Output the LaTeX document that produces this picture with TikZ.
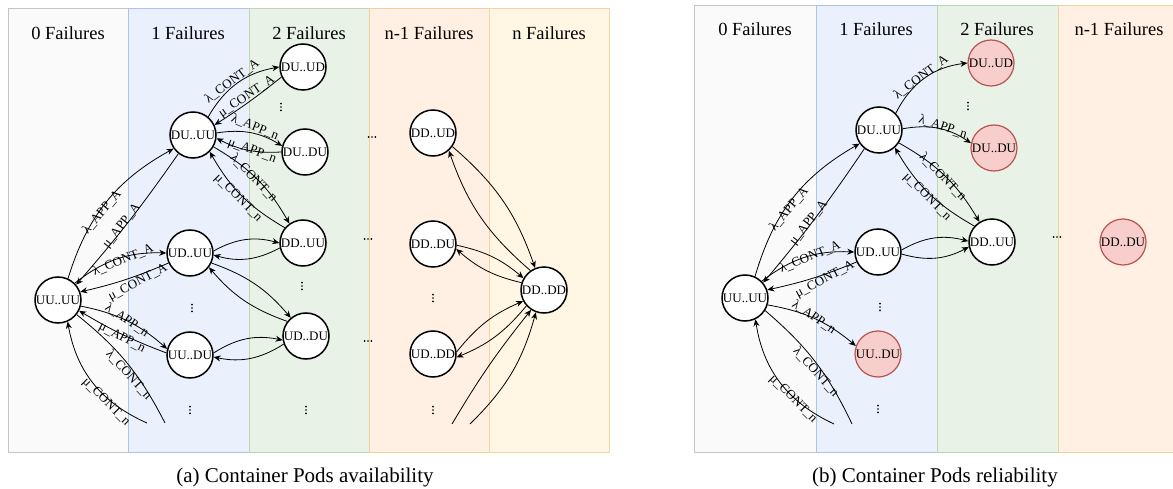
\documentclass[tikz,border=0pt]{standalone}
\usepackage{fontspec}
\setmainfont{Liberation Serif}
\usetikzlibrary{arrows.meta}

\definecolor{fillzero}{HTML}{FAFAFA}\definecolor{drawzero}{HTML}{C4C4C4}
\definecolor{fillone}{HTML}{EBF1FC}\definecolor{drawone}{HTML}{AFC4E2}
\definecolor{filltwo}{HTML}{E8F2E7}\definecolor{drawtwo}{HTML}{BCD8B2}
\definecolor{fillthree}{HTML}{FFF0E3}\definecolor{drawthree}{HTML}{EDD29A}
\definecolor{fillfour}{HTML}{FFF7E4}\definecolor{drawfour}{HTML}{EDD9A0}
\definecolor{lostfill}{HTML}{F8CECC}\definecolor{lostdraw}{HTML}{B85450}

\tikzset{
  band/.style={line width=0.8pt},
  state/.style={circle, draw=black, line width=1.5pt, fill=white, minimum size=46pt,
    inner sep=0pt, font=\fontsize{13}{13}\selectfont},
  lost/.style={state, draw=lostdraw, fill=lostfill, line width=1.2pt},
  lab/.style={font=\fontsize{13}{13}\selectfont, inner sep=0pt},
  head/.style={font=\fontsize{18.5}{19}\selectfont, inner sep=0pt},
  subcaption/.style={font=\fontsize{21}{22}\selectfont, inner sep=0pt},
  tr/.style={-{Stealth[length=7pt,width=6pt]}, line width=0.8pt},
  ln/.style={line width=0.8pt},
  vd/.pic={\fill (0,-3.4) circle (0.95); \fill (0,0) circle (0.95); \fill (0,3.4) circle (0.95);},
  hd/.pic={\fill (-3.4,0) circle (0.95); \fill (0,0) circle (0.95); \fill (3.4,0) circle (0.95);}
}

\begin{document}
\begin{tikzpicture}[x=1pt,y=-1pt]
\useasboundingbox (0,0) rectangle (1173,489);

% ---------------- (a) availability: failure-count bands ----------------
\filldraw[band, fill=fillzero,  draw=drawzero]  (8,8)   rectangle (128,452);
\filldraw[band, fill=fillone,   draw=drawone]   (128,8) rectangle (249,452);
\filldraw[band, fill=filltwo,   draw=drawtwo]   (249,8) rectangle (369,452);
\filldraw[band, fill=fillthree, draw=drawthree] (369,8) rectangle (489,452);
\filldraw[band, fill=fillfour,  draw=drawfour]  (489,8) rectangle (609,452);
\node[head] (a-h0) at (68,33)  {0 Failures};
\node[head] (a-h1) at (188,33) {1 Failures};
\node[head] (a-h2) at (309,33) {2 Failures};
\node[head] (a-h3) at (429,33) {n-1 Failures};
\node[head] (a-h4) at (549,33) {n Failures};

\node[state] (a-uu)   at (58,300)  {UU..UU};
\node[state] (a-du)   at (193,135) {DU..UU};
\node[state] (a-ud)   at (190,253) {UD..UU};
\node[state] (a-uudu) at (190,355) {UU..DU};
\node[state] (a-duud) at (303,67)  {DU..UD};
\node[state] (a-dudu) at (305,152) {DU..DU};
\node[state] (a-dduu) at (303,243) {DD..UU};
\node[state] (a-uddu) at (306,336) {UD..DU};
\node[state] (a-ddud) at (433,133) {DD..UD};
\node[state] (a-dddu) at (433,244) {DD..DU};
\node[state] (a-uddd) at (433,354) {UD..DD};
\node[state] (a-dddd) at (544,290) {DD..DD};
\coordinate (a-e1) at (147,423);
\coordinate (a-e2) at (165,423);
\coordinate (a-e3) at (452,424);
\coordinate (a-e4) at (470,424);

\pic at (281,107) {vd}; \pic at (192,308) {vd}; \pic at (190,410) {vd};
\pic at (302,286) {vd}; \pic at (306,410) {vd};
\pic at (433,298) {vd}; \pic at (433,410) {vd};
\pic at (372,137) {hd}; \pic at (368,239) {hd}; \pic at (368,341) {hd};

% transitions out of the all-up state
\draw[tr] (a-uu.65) to[bend left=22] (a-du.215);
\draw[tr] (a-du.232) to[bend left=3] (a-uu.40);
\draw[tr] (a-uu.45) to[bend left=20] (a-ud.180);
\draw[tr] (a-ud.205) to[bend left=5] (a-uu.20);
\draw[tr] (a-uu.-15) to[bend left=15] (a-uudu.165);
\draw[tr] (a-uudu.175) to[bend left=5] (a-uu.-27);
\draw[ln] (a-uu.-38) to[bend left=12] (a-e2);
\draw[tr] (a-e1) to[bend left=28] (a-uu.-66);
% transitions of DU..UU
\draw[tr] (a-du.50) to[bend left=25] (a-duud.180);
\draw[tr] (a-duud.205) to[bend left=3] (a-du.25);
\draw[tr] (a-du.5) to[bend left=20] (a-dudu.165);
\draw[tr] (a-dudu.180) to[bend left=15] (a-du.-8);
\draw[tr] (a-du.-30) to[bend left=15] (a-dduu.125);
\draw[tr] (a-dduu.140) to[bend left=15] (a-du.-45);
% remaining second-failure transitions
\draw[tr] (a-ud.5) to[bend left=22] (a-dduu.180);
\draw[tr] (a-dduu.192) to[bend left=22] (a-ud.-5);
\draw[tr] (a-ud.-25) to[bend left=15] (a-uddu.130);
\draw[tr] (a-uddu.142) to[bend left=15] (a-ud.-37);
\draw[tr] (a-uudu.5) to[bend left=22] (a-uddu.190);
\draw[tr] (a-uddu.200) to[bend left=22] (a-uudu.-5);
% into and out of the all-down state
\draw[tr] (a-ddud.-35) to[bend left=15] (a-dddd.112);
\draw[tr] (a-dddd.125) to[bend left=15] (a-ddud.-48);
\draw[tr] (a-dddu.-3) to[bend left=14] (a-dddd.150);
\draw[tr] (a-dddd.162) to[bend left=14] (a-dddu.-12);
\draw[tr] (a-uddd.5) to[bend left=14] (a-dddd.208);
\draw[tr] (a-dddd.222) to[bend left=14] (a-uddd.-8);
\draw[tr] (a-e3) to[bend left=4] (a-dddd.237);
\draw[tr] (a-e4) to[bend right=15] (a-dddd.250);

\node[lab, rotate=50]  (a-l1)  at (102,212) {λ\_APP\_A};
\node[lab, rotate=52]  (a-l2)  at (122,226) {μ\_APP\_A};
\node[lab, rotate=22]  (a-l3)  at (123,260) {λ\_CONT\_A};
\node[lab, rotate=28]  (a-l4)  at (138,283) {μ\_CONT\_A};
\node[lab, rotate=-34] (a-l5)  at (127,320) {λ\_APP\_n};
\node[lab, rotate=-28] (a-l6)  at (122,338) {μ\_APP\_n};
\node[lab, rotate=-48] (a-l7)  at (129,375) {λ\_CONT\_n};
\node[lab, rotate=-45] (a-l8)  at (106,402) {μ\_CONT\_n};
\node[lab, rotate=37]  (a-l9)  at (232,81)  {λ\_CONT\_A};
\node[lab, rotate=34]  (a-l10) at (247,97)  {μ\_CONT\_A};
\node[lab, rotate=-22] (a-l11) at (255,127) {λ\_APP\_n};
\node[lab, rotate=-20] (a-l12) at (252,151) {μ\_APP\_n};
\node[lab, rotate=-46] (a-l13) at (254,178) {λ\_CONT\_n};
\node[lab, rotate=-45] (a-l14) at (238,198) {μ\_CONT\_n};

\node[subcaption] (a-cap) at (305,477) {(a) Container Pods availability};

% ---------------- (b) reliability: failed states are absorbing ----------------
\filldraw[band, fill=fillzero,  draw=drawzero]  (694,5)  rectangle (816,452);
\filldraw[band, fill=fillone,   draw=drawone]   (816,5)  rectangle (937,452);
\filldraw[band, fill=filltwo,   draw=drawtwo]   (937,5)  rectangle (1058,452);
\filldraw[band, fill=fillthree, draw=drawthree] (1058,5) rectangle (1185,452);
\node[head] (b-h0) at (755,29)  {0 Failures};
\node[head] (b-h1) at (876,29)  {1 Failures};
\node[head] (b-h2) at (997,29)  {2 Failures};
\node[head] (b-h3) at (1119,29) {n-1 Failures};

\node[state] (b-uu)   at (745,298)  {UU..UU};
\node[state] (b-du)   at (879,130)  {DU..UU};
\node[state] (b-ud)   at (878,252)  {UD..UU};
\node[lost]  (b-uudu) at (878,354)  {UU..DU};
\node[lost]  (b-duud) at (991,63)   {DU..UD};
\node[lost]  (b-dudu) at (994,148)  {DU..DU};
\node[state] (b-dduu) at (992,242)  {DD..UU};
\node[lost]  (b-dddu) at (1123,242) {DD..DU};
\coordinate (b-e1) at (834,424);
\coordinate (b-e2) at (852,424);

\pic at (968,106) {vd}; \pic at (880,307) {vd}; \pic at (878,409) {vd};
\pic at (1057,237) {hd};

\draw[tr] (b-uu.65) to[bend left=22] (b-du.215);
\draw[tr] (b-du.232) to[bend left=3] (b-uu.40);
\draw[tr] (b-uu.45) to[bend left=20] (b-ud.180);
\draw[tr] (b-ud.205) to[bend left=5] (b-uu.20);
\draw[tr] (b-uu.-17) to[bend left=15] (b-uudu.160);
\draw[ln] (b-uu.-32) to[bend left=12] (b-e2);
\draw[tr] (b-e1) to[bend left=28] (b-uu.-64);
\draw[tr] (b-du.45) to[bend left=28] (b-duud.180);
\draw[tr] (b-du.3) to[bend left=22] (b-dudu.168);
\draw[tr] (b-du.-33) to[bend left=15] (b-dduu.122);
\draw[tr] (b-dduu.138) to[bend left=15] (b-du.-48);
\draw[tr] (b-ud.5) to[bend left=22] (b-dduu.178);
\draw[tr] (b-ud.-5) to[bend right=22] (b-dduu.192);

\node[lab, rotate=50]  (b-l1)  at (789,209) {λ\_APP\_A};
\node[lab, rotate=52]  (b-l2)  at (809,223) {μ\_APP\_A};
\node[lab, rotate=22]  (b-l3)  at (810,257) {λ\_CONT\_A};
\node[lab, rotate=28]  (b-l4)  at (825,280) {μ\_CONT\_A};
\node[lab, rotate=-34] (b-l5)  at (814,317) {λ\_APP\_n};
\node[lab, rotate=-48] (b-l7)  at (816,372) {λ\_CONT\_n};
\node[lab, rotate=-45] (b-l8)  at (793,399) {μ\_CONT\_n};
\node[lab, rotate=37]  (b-l9)  at (921,77)  {λ\_CONT\_A};
\node[lab, rotate=-18] (b-l11) at (943,127) {λ\_APP\_n};
\node[lab, rotate=-46] (b-l13) at (943,177) {λ\_CONT\_n};
\node[lab, rotate=-45] (b-l14) at (927,197) {μ\_CONT\_n};

\node[subcaption] (b-cap) at (935,477) {(b) Container Pods reliability};
\end{tikzpicture}
\end{document}
